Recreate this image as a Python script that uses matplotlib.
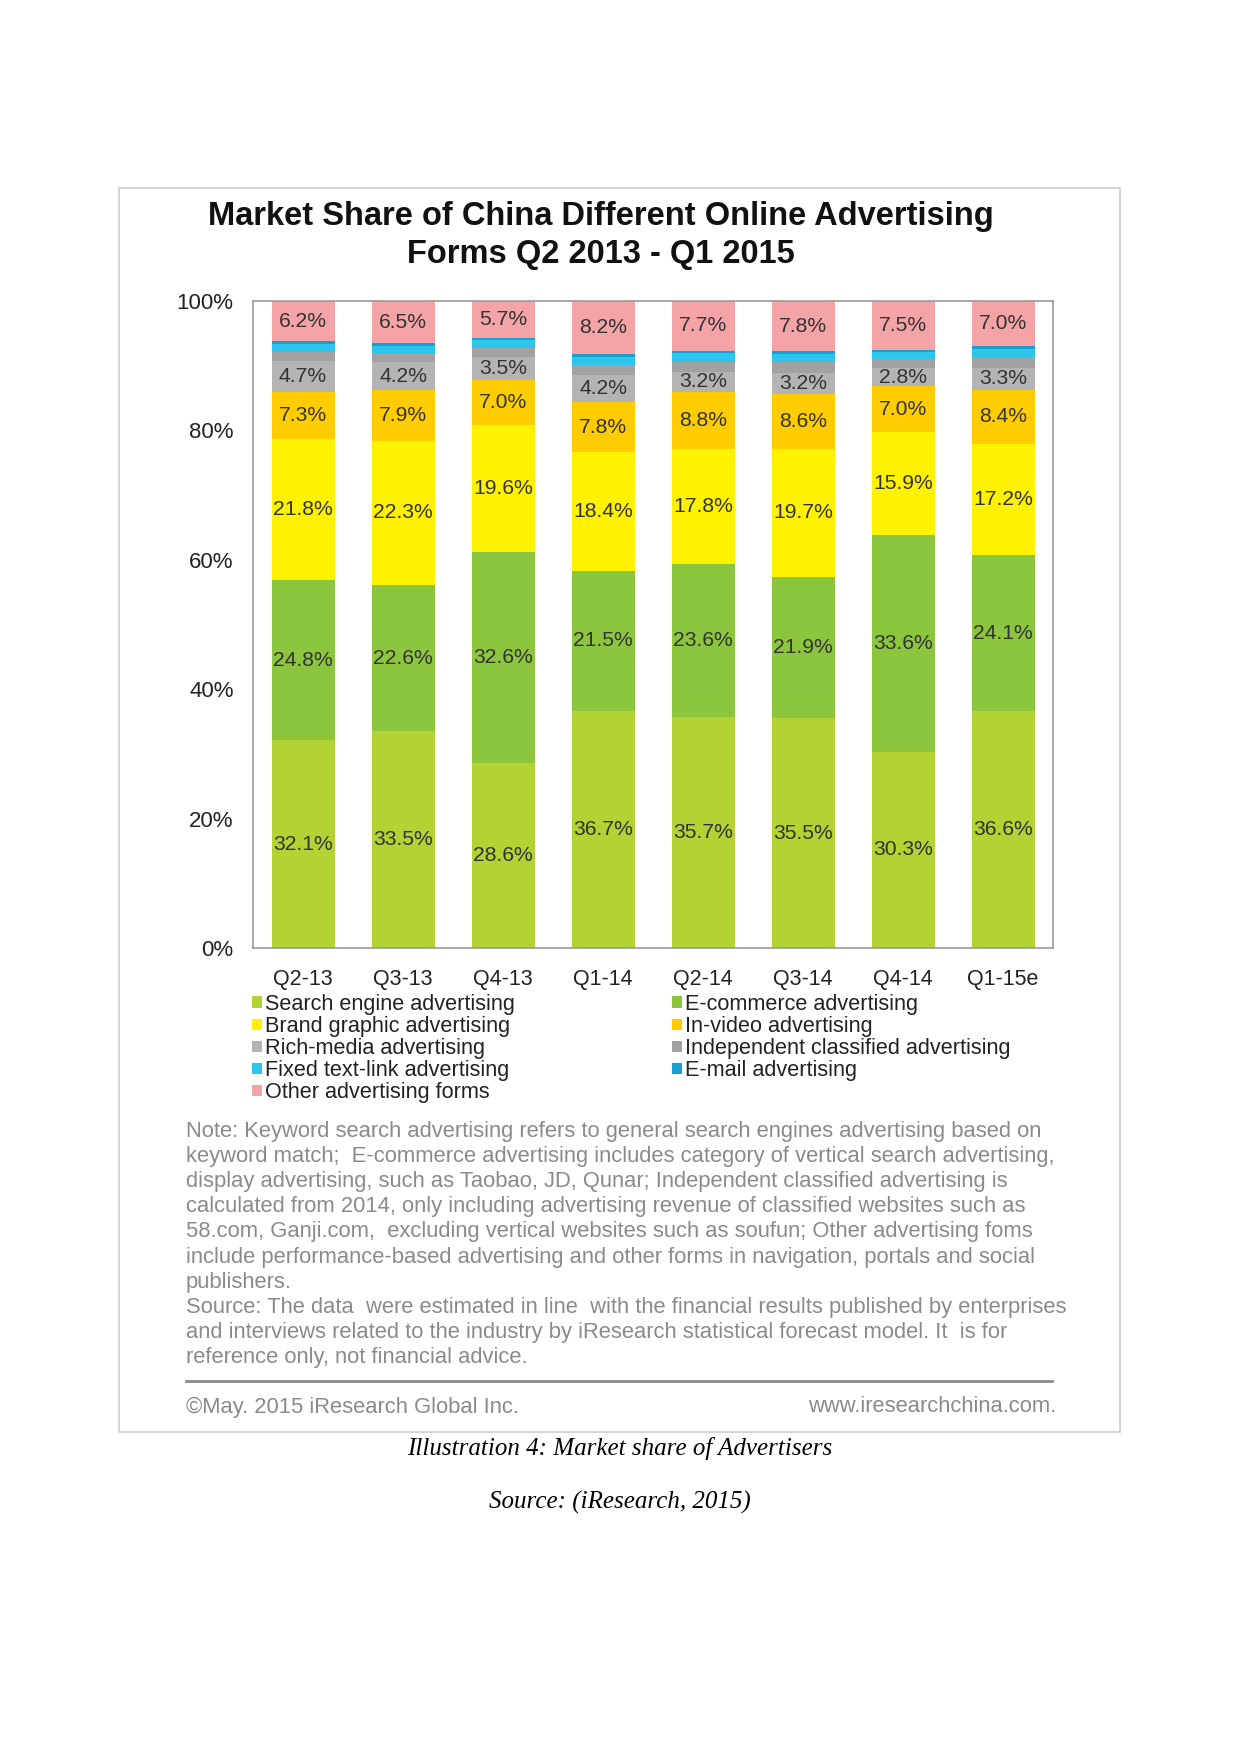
import numpy as np
import matplotlib
matplotlib.use("Agg")
import matplotlib.pyplot as plt
from matplotlib import font_manager
from matplotlib.patches import Rectangle, Patch
from matplotlib.lines import Line2D

quarters = ["Q2-13", "Q3-13", "Q4-13", "Q1-14", "Q2-14", "Q3-14", "Q4-14", "Q1-15e"]

search = [32.1, 33.5, 28.6, 36.7, 35.7, 35.5, 30.3, 36.6]
ecommerce = [24.8, 22.6, 32.6, 21.5, 23.6, 21.9, 33.6, 24.1]
brand = [21.8, 22.3, 19.6, 18.4, 17.8, 19.7, 15.9, 17.2]
video = [7.3, 7.9, 7.0, 7.8, 8.8, 8.6, 7.0, 8.4]
richmedia = [4.7, 4.2, 3.5, 4.2, 3.2, 3.2, 2.8, 3.3]
classified = [1.4, 1.4, 1.4, 1.5, 1.5, 1.6, 1.4, 1.6]
textlink = [1.3, 1.2, 1.2, 1.3, 1.3, 1.3, 1.1, 1.4]
email = [0.4, 0.4, 0.4, 0.4, 0.4, 0.4, 0.4, 0.4]
other = [6.2, 6.5, 5.7, 8.2, 7.7, 7.8, 7.5, 7.0]

series_names = ["Search engine advertising", "E-commerce advertising",
                "Brand graphic advertising", "In-video advertising",
                "Rich-media advertising", "Independent classified advertising",
                "Fixed text-link advertising", "E-mail advertising",
                "Other advertising forms"]
series = [search, ecommerce, brand, video, richmedia, classified, textlink, email, other]
colors = ["#b3d234", "#8cc63f", "#fff200", "#ffcc00", "#b4b4b4",
          "#a2a2a2", "#2ec5ec", "#1b9fd0", "#f4a3a6"]
labelled = [True, True, True, True, True, False, False, False, True]

yticks = [0, 20, 40, 60, 80, 100]

note_lines = [
    "Note: Keyword search advertising refers to general search engines advertising based on",
    "keyword match;  E-commerce advertising includes category of vertical search advertising,",
    "display advertising, such as Taobao, JD, Qunar; Independent classified advertising is",
    "calculated from 2014, only including advertising revenue of classified websites such as",
    "58.com, Ganji.com,  excluding vertical websites such as soufun; Other advertising foms",
    "include performance-based advertising and other forms in navigation, portals and social",
    "publishers.",
    "Source: The data  were estimated in line  with the financial results published by enterprises",
    "and interviews related to the industry by iResearch statistical forecast model. It  is for",
    "reference only, not financial advice.",
]

installed = {f.name for f in font_manager.fontManager.ttflist}
sans = "Liberation Sans Narrow" if "Liberation Sans Narrow" in installed else "Liberation Sans"

W, H = 1241, 1754
fig = plt.figure(figsize=(W / 100, H / 100), dpi=100)
fig.patch.set_facecolor("white")

def fx(px):
    return px / W

def fy(py):
    return 1 - py / H

# frame of the pasted picture
fig.patches.append(Rectangle((fx(119), fy(1432)), fx(1120) - fx(119), fy(188) - fy(1432),
                             transform=fig.transFigure, fill=False, edgecolor="#cccccc", lw=1.2))

fig.text(fx(601), fy(217), "Market Share of China Different Online Advertising",
         ha="center", va="center", fontsize=23.5, fontweight="bold", family=sans, color="#111111")
fig.text(fx(601), fy(254), "Forms Q2 2013 - Q1 2015",
         ha="center", va="center", fontsize=23.5, fontweight="bold", family=sans, color="#111111")

ax = fig.add_axes([fx(253), fy(948), fx(1053) - fx(253), fy(301) - fy(948)])
x = np.arange(len(quarters))
bottom = np.zeros(len(quarters))
for vals, col, lab in zip(series, colors, labelled):
    vals = np.array(vals)
    ax.bar(x, vals, 0.63, bottom=bottom, color=col, linewidth=0)
    if lab:
        for xi, b, v in zip(x, bottom, vals):
            ax.text(xi, b + v / 2, f"{v:.1f}%", ha="center", va="center",
                    fontsize=15.2, family=sans, color="#333333")
    bottom += vals

ax.set_xlim(-0.5, len(quarters) - 0.5)
ax.set_ylim(0, 100)
ax.set_yticks(yticks)
ax.set_yticklabels([f"{t}%" for t in yticks], family=sans, fontsize=16, color="#222222")
ax.set_xticks(x)
ax.set_xticklabels(quarters, family=sans, fontsize=15.5, color="#222222")
ax.tick_params(length=0)
ax.tick_params(axis="y", pad=14)
ax.tick_params(axis="x", pad=15)
for s in ax.spines.values():
    s.set_color("#999999")
    s.set_linewidth(1.2)

# legend in two columns, row-major order as in the source
def make_handles(idx):
    return [Patch(facecolor=colors[i], edgecolor="none") for i in idx], [series_names[i] for i in idx]

col1 = [0, 2, 4, 6, 8]
col2 = [1, 3, 5, 7]
for idx, xpos in [(col1, 252), (col2, 672)]:
    h, l = make_handles(idx)
    lg = fig.legend(h, l, loc="upper left", bbox_to_anchor=(fx(xpos), fy(994)),
                    frameon=False, prop={"family": sans, "size": 15.6},
                    handlelength=0.45, handleheight=0.45, handletextpad=0.15,
                    labelspacing=0.05, borderpad=0, borderaxespad=0)
    for t in lg.get_texts():
        t.set_color("#222222")

for i, line in enumerate(note_lines):
    fig.text(fx(186), fy(1131 + i * 25.2), line, ha="left", va="center",
             fontsize=15.8, family=sans, color="#8a8a8a")

fig.add_artist(Line2D([fx(186), fx(1052)], [fy(1381), fy(1381)], transform=fig.transFigure,
                      color="#8a8a8a", lw=2))
fig.text(fx(186), fy(1407), "\u00a9May. 2015 iResearch Global Inc.", ha="left", va="center",
         fontsize=15.8, family=sans, color="#8a8a8a")
fig.text(fx(1056), fy(1407), "www.iresearchchina.com.", ha="right", va="center",
         fontsize=15.8, family=sans, color="#8a8a8a")

fig.text(fx(620), fy(1448), "Illustration 4: Market share of Advertisers", ha="center", va="center",
         fontsize=18, family="Liberation Serif", style="italic", color="black")
fig.text(fx(620), fy(1502), "Source: (iResearch, 2015)", ha="center", va="center",
         fontsize=18, family="Liberation Serif", style="italic", color="black")

fig.savefig("out.png", dpi=100, facecolor="white")
